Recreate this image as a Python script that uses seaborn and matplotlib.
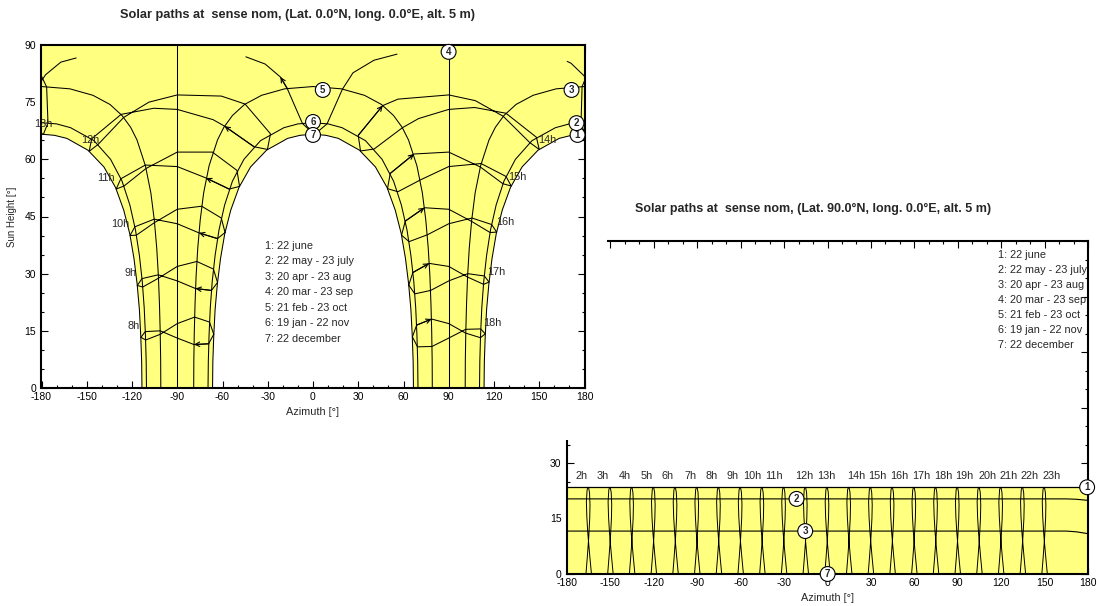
import numpy as np
import matplotlib
matplotlib.use("Agg")
import matplotlib.pyplot as plt
from matplotlib.patches import Rectangle
from matplotlib.ticker import MultipleLocator
import seaborn as sns

sns.set_theme(style="ticks")
plt.rcParams["font.family"] = ["Liberation Sans", "DejaVu Sans"]
plt.rcParams["axes.edgecolor"] = "black"
plt.rcParams["axes.unicode_minus"] = False

YELLOW = "#FFFF80"
AZ_LIM = (-180, 180)
ALT_LIM = (0, 90)

title_eq = "Solar paths at  sense nom, (Lat. 0.0°N, long. 0.0°E, alt. 5 m)"
title_pole = "Solar paths at  sense nom, (Lat. 90.0°N, long. 0.0°E, alt. 5 m)"
legend_lines = ["1: 22 june", "2: 22 may - 23 july", "3: 20 apr - 23 aug",
                "4: 20 mar - 23 sep", "5: 21 feb - 23 oct", "6: 19 jan - 22 nov",
                "7: 22 december"]

# ---------------- Lat. 0.0N : day curves (azimuth, sun height) ----------------
# 1: 22 june (morning piece / afternoon piece)
c1m_az = [-180, -171.4, -163.2, -149.2, -138.6, -130.9, -125.5, -121.5, -118.7, -116.6, -115.1, -114.2, -113.6, -113.4]
c1a_az = [180, 171.4, 163.2, 149.2, 138.6, 130.9, 125.5, 121.5, 118.7, 116.6, 115.1, 114.2, 113.6, 113.4]
c1_alt = [66.6, 66.3, 65.5, 62.4, 58.0, 52.6, 46.7, 40.5, 34.0, 27.3, 20.6, 13.7, 6.9, 0]
# 2: 22 may - 23 july
c2m_az = [-180, -170.0, -160.7, -145.2, -134.2, -126.6, -121.4, -117.7, -115.1, -113.2, -111.9, -111.1, -110.6, -110.4]
c2a_az = [180, 170.0, 160.7, 145.2, 134.2, 126.6, 121.4, 117.7, 115.1, 113.2, 111.9, 111.1, 110.6, 110.4]
c2_alt = [69.6, 69.3, 68.3, 64.9, 60.0, 54.3, 48.0, 41.5, 34.8, 28.0, 21.0, 14.0, 7.0, 0]
# 3: 20 apr - 23 aug
c3m_az = [-180, -161.2, -145.9, -134.6, -126.6, -120.9, -116.7, -111.1, -107.5, -105.2, -103.6, -102.5, -101.8, -101.3, -101.0, -100.9]
c3a_az = [180, 161.2, 145.9, 134.6, 126.6, 120.9, 116.7, 111.1, 107.5, 105.2, 103.6, 102.5, 101.8, 101.3, 101.0, 100.9]
c3_alt = [79.1, 78.5, 76.8, 74.4, 71.5, 68.4, 65.1, 58.3, 51.2, 44.0, 36.7, 29.4, 22.1, 14.7, 7.4, 0]
# 4: 20 mar - 23 sep
c4m_az = [-90, -90]
c4a_az = [90, 90]
c4_alt = [0, 90]
# 5: 21 feb - 23 oct
c5_az = [-79.1, -79.0, -78.7, -78.2, -77.5, -76.4, -74.8, -72.5, -68.9, -63.3, -59.1, -53.4, -45.4, -34.1, -18.8, 0,
         18.8, 34.1, 45.4, 53.4, 59.1, 63.3, 68.9, 72.5, 74.8, 76.4, 77.5, 78.2, 78.7, 79.0, 79.1]
c5_alt = [0, 7.4, 14.7, 22.1, 29.4, 36.7, 44.0, 51.2, 58.3, 65.1, 68.4, 71.5, 74.4, 76.8, 78.5, 79.1,
          78.5, 76.8, 74.4, 71.5, 68.4, 65.1, 58.3, 51.2, 44.0, 36.7, 29.4, 22.1, 14.7, 7.4, 0]
# 6: 19 jan - 22 nov
c6_az = [-69.6, -69.4, -68.9, -68.1, -66.8, -64.9, -62.3, -58.6, -53.4, -45.8, -34.8, -19.3, -10.0, 0,
         10.0, 19.3, 34.8, 45.8, 53.4, 58.6, 62.3, 64.9, 66.8, 68.1, 68.9, 69.4, 69.6]
c6_alt = [0, 7.0, 14.0, 21.0, 28.0, 34.8, 41.5, 48.0, 54.3, 60.0, 64.9, 68.3, 69.3, 69.6,
          69.3, 68.3, 64.9, 60.0, 54.3, 48.0, 41.5, 34.8, 28.0, 21.0, 14.0, 7.0, 0]
# 7: 22 december
c7_az = [-66.6, -66.4, -65.8, -64.9, -63.4, -61.3, -58.5, -54.5, -49.1, -41.4, -30.8, -16.8, -8.6, 0,
         8.6, 16.8, 30.8, 41.4, 49.1, 54.5, 58.5, 61.3, 63.4, 64.9, 65.8, 66.4, 66.6]
c7_alt = [0, 6.9, 13.7, 20.6, 27.3, 34.0, 40.5, 46.7, 52.6, 58.0, 62.4, 65.5, 66.3, 66.6,
          66.3, 65.5, 62.4, 58.0, 52.6, 46.7, 40.5, 34.0, 27.3, 20.6, 13.7, 6.9, 0]

# ---------------- Lat. 0.0N : hour lines (dec, jan, feb, mar, apr, may, jun, jul, aug, sep, oct, nov) ----------------
h08_az = [-65.8, -69.2, -78.9, -90.0, -101.3, -111.2, -114.1, -110.9, -101.2, -90.0, -78.5, -68.6, -65.8]
h08_alt = [14.1, 11.6, 11.4, 13.1, 15.0, 14.8, 13.3, 12.6, 14.1, 16.9, 18.6, 17.3, 14.1]
h09_az = [-63.3, -67.3, -77.9, -90.0, -102.6, -113.4, -116.5, -112.9, -102.5, -90.0, -77.0, -66.0, -63.3]
h09_alt = [27.7, 25.6, 26.1, 28.1, 29.7, 28.7, 26.9, 26.5, 28.8, 31.9, 33.2, 31.2, 27.7]
h10_az = [-58.3, -63.3, -75.6, -90.0, -105.3, -118.1, -121.3, -117.1, -105.1, -90.0, -73.8, -60.8, -58.3]
h10_alt = [40.8, 39.2, 40.7, 43.1, 44.3, 42.3, 40.0, 40.1, 43.4, 46.9, 47.7, 44.6, 40.8]
h11_az = [-48.7, -55.6, -70.9, -90.0, -111.2, -127.4, -130.5, -125.3, -110.7, -90.0, -66.7, -50.4, -48.7]
h11_alt = [52.9, 52.2, 55.1, 58.1, 58.5, 54.9, 52.2, 53.0, 57.6, 61.9, 61.9, 57.1, 52.9]
h12_az = [-30.2, -39.1, -58.6, -66.2, -90.0, -105.6, -127.2, -146.7, -148.4, -142.5, -125.5, -108.8, -90.0, -60.8, -45.0, -28.2, -30.2]
h12_alt = [62.6, 63.3, 68.7, 70.4, 73.1, 73.4, 71.8, 65.4, 62.1, 63.9, 71.0, 75.0, 76.9, 76.6, 74.5, 66.7, 62.6]
h14_az = [31.5, 30.0, 46.2, 56.4, 90.0, 107.6, 126.1, 143.7, 150.0, 148.1, 127.9, 107.2, 90.0, 70.0, 59.3, 40.5, 31.5]
h14_alt = [62.2, 66.3, 74.1, 75.8, 76.9, 75.4, 71.3, 64.4, 62.6, 65.8, 72.1, 73.6, 73.1, 70.7, 68.3, 62.7, 62.2]
h15_az = [49.4, 51.2, 67.0, 90.0, 110.9, 125.9, 131.4, 128.0, 111.4, 90.0, 71.2, 56.3, 49.4]
h15_alt = [52.3, 56.3, 61.4, 61.9, 58.0, 53.6, 53.0, 55.5, 58.9, 58.1, 54.6, 51.5, 52.3]
h16_az = [58.7, 61.2, 73.9, 90.0, 105.2, 117.4, 121.8, 118.4, 105.4, 90.0, 75.8, 63.7, 58.7]
h16_alt = [40.1, 43.8, 47.3, 46.9, 43.7, 40.8, 40.9, 42.9, 44.6, 43.1, 40.2, 38.4, 40.1]
h17_az = [63.5, 66.2, 77.0, 90.0, 102.5, 113.1, 116.7, 113.6, 102.6, 90.0, 78.0, 67.5, 63.5]
h17_alt = [27.0, 30.3, 32.7, 31.9, 29.1, 27.2, 27.8, 29.4, 30.0, 28.1, 25.6, 24.7, 27.0]
h18_az = [65.9, 68.7, 78.6, 90.0, 101.2, 111.0, 114.2, 111.2, 101.3, 90.0, 78.9, 69.3, 65.9]
h18_alt = [13.4, 16.5, 18.1, 16.9, 14.4, 13.2, 14.2, 15.5, 15.4, 13.1, 10.9, 10.8, 13.4]
# 13h passes near the zenith, drawn in pieces
h13a_az = [55.7, 40.4, 26.5, 19.5, 9.3, 0.9, -7.0, -17.1, -21.6, -31.7, -44.5]
h13a_alt = [87.6, 86.0, 82.7, 78.4, 69.3, 66.5, 69.4, 78.6, 81.6, 85.0, 86.9]
h13b_az = [-157.0, -167.2, -177.3, -180.0]
h13b_alt = [86.6, 85.5, 82.2, 80.6]
h13c_az = [180.0, 178.4, 177.7, 180.0]
h13c_alt = [80.6, 79.1, 69.6, 66.8]
h13d_az = [-180.0, -178.8, -175.7, -176.6, -180.0]
h13d_alt = [66.8, 66.5, 69.6, 79.0, 81.8]
h13e_az = [180.0, 171.1, 168.5]
h13e_alt = [81.8, 85.2, 85.7]

eq_hour_text = ["8h", "9h", "10h", "11h", "12h", "13h", "14h", "15h", "16h", "17h", "18h"]
eq_hour_az = [-118.7, -120.7, -128.0, -137.3, -147.9, -179.0, 155.6, 135.7, 127.7, 121.8, 119.2]
eq_hour_alt = [16.3, 30.2, 43.0, 55.1, 65.1, 69.3, 65.1, 55.4, 43.6, 30.4, 17.1]

eq_mark_text = ["1", "2", "3", "4", "5", "6", "7"]
eq_mark_az = [175.4, 174.7, 171.4, 89.9, 6.5, 0.0, 0.0]
eq_mark_alt = [66.4, 69.5, 78.2, 88.2, 78.2, 69.8, 66.4]

# ---------------- Lat. 90.0N ----------------
p1_az = [-180, 180]
p1_alt = [23.44, 23.44]
p2_az = [-180, 165, 172, 180]
p2_alt = [20.3, 20.3, 20.2, 19.9]
p3_az = [-180, 165, 172, 180]
p3_alt = [11.6, 11.6, 11.4, 10.9]
pole_hour_az = [-165, -150, -135, -120, -105, -90, -75, -60, -45, -30, -15,
                0, 15, 30, 45, 60, 75, 90, 105, 120, 135, 150]
pole_loop_daz = [-1.9, -1.0, 0.0, 0.7, 0.9, 0.55, 0.0, -0.5, -1.1, -1.6, -1.3, -0.65, 0.0, 0.75, 1.9]
pole_loop_alt = [0.0, 4.4, 9.8, 15.0, 18.7, 22.0, 23.2, 23.44, 22.8, 19.5, 15.5, 11.2, 8.2, 4.8, 0.0]
pole_hour_text = ["2h", "3h", "4h", "5h", "6h", "7h", "8h", "9h", "10h", "11h", "12h",
                  "13h", "14h", "15h", "16h", "17h", "18h", "19h", "20h", "21h", "22h", "23h"]
pole_hour_lbl_az = [-170.0, -155.0, -140.0, -125.2, -110.2, -94.9, -79.9, -65.4, -52.3, -37.3, -16.1,
                    -1.1, 19.7, 34.7, 49.8, 64.8, 79.8, 94.4, 110.4, 125.4, 139.9, 155.0]
pole_hour_lbl_alt = 26.4
pole_mark_text = ["1", "2", "3", "7"]
pole_mark_az = [179.4, -21.4, -15.4, 0.1]
pole_mark_alt = [23.44, 20.3, 11.6, 0.0]


def trace(ax, az, alt, lw=0.75):
    sns.lineplot(x=az, y=alt, sort=False, estimator=None, color="black",
                 linewidth=lw, ax=ax, legend=False)


def frame(ax):
    ax.set_xlim(*AZ_LIM)
    ax.set_ylim(*ALT_LIM)
    ax.set_facecolor("white")
    ax.grid(False)
    ax.xaxis.set_major_locator(MultipleLocator(30))
    ax.xaxis.set_minor_locator(MultipleLocator(10))
    ax.yaxis.set_major_locator(MultipleLocator(15))
    ax.yaxis.set_minor_locator(MultipleLocator(5))
    ax.tick_params(which="both", direction="in", top=True, right=True, left=True, bottom=True,
                   color="black", labelcolor="black", labelsize=7.5, width=0.8)
    ax.tick_params(which="major", length=5)
    ax.tick_params(which="minor", length=2.5)
    ax.tick_params(axis="x", pad=3)
    ax.tick_params(axis="y", pad=4)
    for s in ax.spines.values():
        s.set_color("black")
        s.set_linewidth(1.5)
    ax.set_axisbelow(True)


def mark(ax, x, y, t):
    ax.text(x, y, t, ha="center", va="center", fontsize=7, fontweight="bold", zorder=6,
            clip_on=False,
            bbox=dict(boxstyle="circle,pad=0.25", fc="white", ec="black", lw=0.8))


W, H = 1097, 606
fig = plt.figure(figsize=(W / 100, H / 100), dpi=100)
fig.patch.set_facecolor("white")

# ---- chart at 90N (lies behind) ----
ax_p = fig.add_axes([567 / W, 1 - 574 / H, 521 / W, 333 / H])
ax_p.set_zorder(0)
ax_p.fill_between(p1_az, ALT_LIM[0], p1_alt, color=YELLOW, lw=0, zorder=1)
for az0 in pole_hour_az:
    trace(ax_p, np.add(az0, pole_loop_daz), pole_loop_alt, lw=0.7)
trace(ax_p, p1_az, p1_alt, lw=0.9)
trace(ax_p, p2_az, p2_alt, lw=0.8)
trace(ax_p, p3_az, p3_alt, lw=0.8)
frame(ax_p)
for az, t in zip(pole_hour_lbl_az, pole_hour_text):
    ax_p.text(az, pole_hour_lbl_alt, t, ha="center", va="center", fontsize=7.8)
for x, y, t in zip(pole_mark_az, pole_mark_alt, pole_mark_text):
    mark(ax_p, x, y, t)
for i, line in enumerate(legend_lines):
    ax_p.text(0.827, 0.958 - i * 0.0453, line, transform=ax_p.transAxes,
              fontsize=7.8, va="center", ha="left")
ax_p.set_xlabel("Azimuth [°]", fontsize=7.8)
ax_p.xaxis.set_label_coords(0.5, -0.057)
ax_p.set_ylabel("")

# white panel of the front window
fig.add_artist(Rectangle((0, 1 - 440 / H), 607 / W, 440 / H, transform=fig.transFigure,
                         facecolor="white", edgecolor="none", zorder=1))

# ---- chart at 0N (front) ----
ax_e = fig.add_axes([41.5 / W, 1 - 388 / H, 543 / W, 343 / H])
ax_e.set_zorder(2)
poly_az = c1m_az + c7_az + c1a_az[::-1] + [AZ_LIM[1], AZ_LIM[0]]
poly_alt = c1_alt + c7_alt + c1_alt[::-1] + [ALT_LIM[1], ALT_LIM[1]]
ax_e.fill(poly_az, poly_alt, color=YELLOW, lw=0, zorder=1)

hour_lines = [(h08_az, h08_alt), (h09_az, h09_alt), (h10_az, h10_alt), (h11_az, h11_alt),
              (h12_az, h12_alt), (h14_az, h14_alt), (h15_az, h15_alt), (h16_az, h16_alt),
              (h17_az, h17_alt), (h18_az, h18_alt)]
for az, alt in hour_lines:
    trace(ax_e, az, alt)
    # direction arrow between the january and february points
    ax_e.annotate("", xy=(az[2], alt[2]), xytext=(az[1], alt[1]),
                  arrowprops=dict(arrowstyle="->", color="black", lw=0.8,
                                  shrinkA=0, shrinkB=0, mutation_scale=8))
for az, alt in [(h13a_az, h13a_alt), (h13b_az, h13b_alt), (h13c_az, h13c_alt),
                (h13d_az, h13d_alt), (h13e_az, h13e_alt)]:
    trace(ax_e, az, alt)
ax_e.annotate("", xy=(h13a_az[8], h13a_alt[8]), xytext=(h13a_az[7], h13a_alt[7]),
              arrowprops=dict(arrowstyle="->", color="black", lw=0.8,
                              shrinkA=0, shrinkB=0, mutation_scale=8))

for az, alt in [(c1m_az, c1_alt), (c1a_az, c1_alt), (c2m_az, c2_alt), (c2a_az, c2_alt),
                (c3m_az, c3_alt), (c3a_az, c3_alt), (c4m_az, c4_alt), (c4a_az, c4_alt),
                (c5_az, c5_alt), (c6_az, c6_alt), (c7_az, c7_alt)]:
    trace(ax_e, az, alt)

frame(ax_e)
for x, y, t in zip(eq_hour_az, eq_hour_alt, eq_hour_text):
    ax_e.text(x, y, t, ha="center", va="center", fontsize=7.8, zorder=5)
for x, y, t in zip(eq_mark_az, eq_mark_alt, eq_mark_text):
    mark(ax_e, x, y, t)
for i, line in enumerate(legend_lines):
    ax_e.text(0.4116, 0.414 - i * 0.045, line, transform=ax_e.transAxes,
              fontsize=7.8, va="center", ha="left", zorder=5)
ax_e.set_xlabel("Azimuth [°]", fontsize=7.8)
ax_e.xaxis.set_label_coords(0.5, -0.055)
ax_e.set_ylabel("Sun Height [°]", fontsize=7)
ax_e.yaxis.set_label_coords(-0.046, 0.5)

fig.text(297.5 / W, 1 - 15 / H, title_eq, ha="center", va="center", fontsize=9.2, fontweight="bold")
fig.text(813 / W, 1 - 209 / H, title_pole, ha="center", va="center", fontsize=9, fontweight="bold")

fig.savefig("out.png", dpi=100, facecolor="white")
